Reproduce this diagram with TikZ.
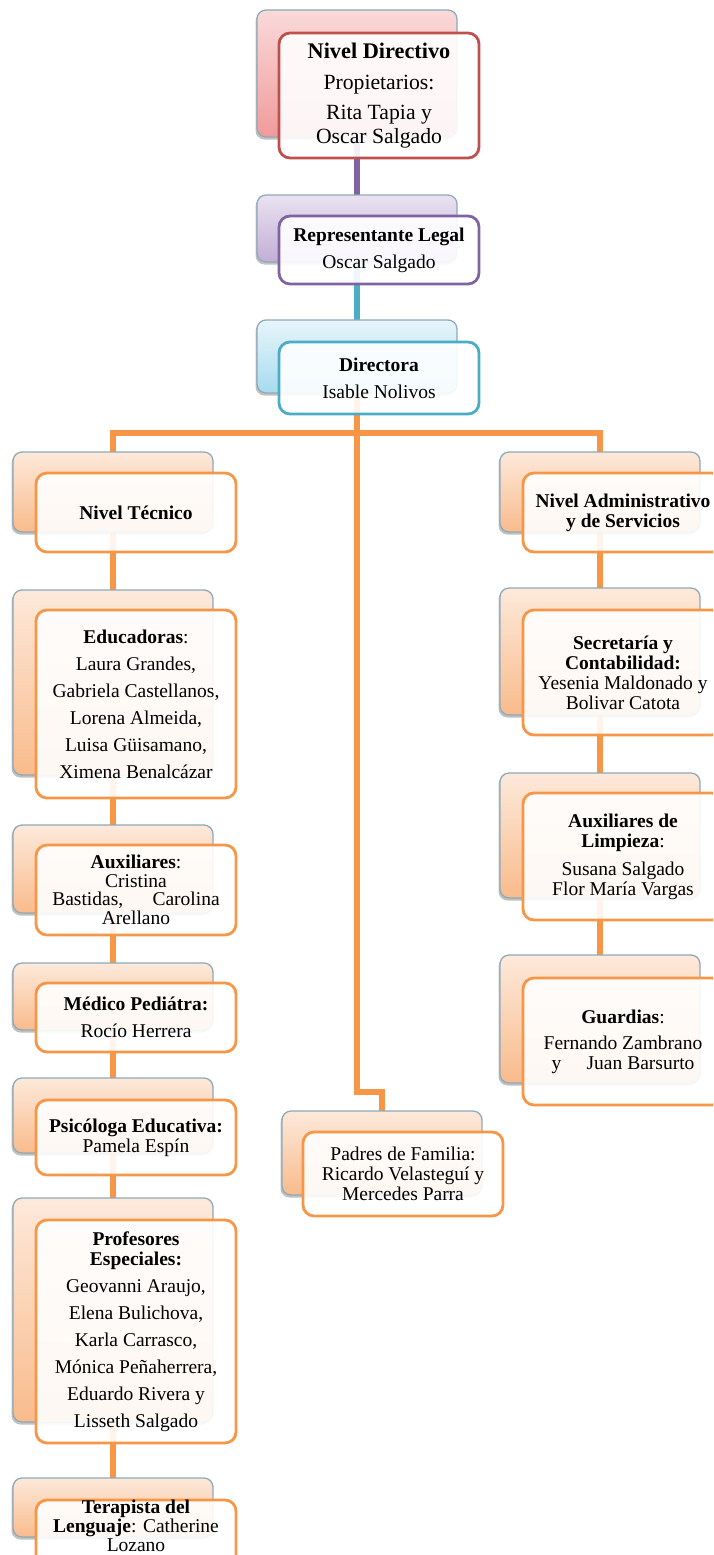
\documentclass[tikz,border=0pt]{standalone}
\usepackage{fontspec}
\setmainfont{Liberation Serif}
\usetikzlibrary{shadows}
\pgfdeclarelayer{bg}
\pgfsetlayers{bg,main}
\definecolor{orng}{HTML}{F79646}
\definecolor{og1}{HTML}{FDE9DB}
\definecolor{og2}{HTML}{F9BB8C}
\definecolor{redb}{HTML}{C0504D}
\definecolor{rd1}{HTML}{FADADA}
\definecolor{rd2}{HTML}{F09A9A}
\definecolor{purp}{HTML}{8064A2}
\definecolor{pp1}{HTML}{EAE2F1}
\definecolor{pp2}{HTML}{C2AED6}
\definecolor{teal}{HTML}{4BACC6}
\definecolor{tl1}{HTML}{E8F5FB}
\definecolor{tl2}{HTML}{A6DBEF}
\definecolor{bbord}{HTML}{8EAAB8}
\newcommand{\bt}[1]{{\fontsize{19.5}{20}\selectfont\bfseries #1}}
\tikzset{
  backbox/.style={rectangle, rounded corners=9pt, draw=bbord, line width=1.3pt,
    minimum width=200pt, inner sep=0pt,
    drop shadow={shadow xshift=-1.5pt, shadow yshift=-2.5pt, opacity=0.35, fill=black!70}},
  orgback/.style={backbox, top color=og1, bottom color=og2},
  frontbox/.style={rectangle, rounded corners=11pt, line width=2.8pt, fill=white,
    fill opacity=0.9, text opacity=1, minimum width=200pt, align=center, inner sep=2pt,
    font=\fontsize{19.5}{20}\selectfont},
  orgfront/.style={frontbox, draw=orng},
  plaintext/.style={align=center, inner sep=0pt, font=\fontsize{19.5}{19}\selectfont},
  conn/.style={line width=5.5pt},
}
\begin{document}
\begin{tikzpicture}[x=1pt,y=1pt]
\useasboundingbox (0,0) rectangle (713,-1555);
\clip (0,0) rectangle (713,-1555);
% top chain
\node[backbox, top color=rd1, bottom color=rd2, minimum height=127pt] (dirB) at (357,-73.5) {};
\node[frontbox, draw=redb, minimum height=125pt, font=\fontsize{21.7}{24}\selectfont] (dirF) at (379,-95.5)
  {{\fontsize{22.3}{24}\selectfont\bfseries Nivel Directivo}\\[7pt] Propietarios:\\[6pt] Rita Tapia y\\ Oscar Salgado};
\node[backbox, top color=pp1, bottom color=pp2, minimum height=67pt] (repB) at (357,-228.5) {};
\node[frontbox, draw=purp, minimum height=68pt] (repF) at (379,-250)
  {\bt{Representante Legal}\\[7pt] Oscar Salgado};
\node[backbox, top color=tl1, bottom color=tl2, minimum height=73pt] (diraB) at (357,-356.5) {};
\node[frontbox, draw=teal, minimum height=72pt] (diraF) at (379,-378)
  {\bt{Directora}\\[7pt] Isable Nolivos};
% left column
\node[orgback, minimum height=80pt] (tecB) at (113,-492) {};
\node[orgfront, minimum height=79pt] (tecF) at (136,-512.5) {\bt{Nivel Técnico}};
\node[orgback, minimum height=185pt] (eduB) at (113,-682.5) {};
\node[orgfront, minimum height=188pt] (eduF) at (136,-704)
  {\bt{Educadoras}:\\[7pt] Laura Grandes,\\[7pt] Gabriela Castellanos,\\[7pt] Lorena Almeida,\\[7pt] Luisa Güisamano,\\[7pt] Ximena Benalcázar};
\node[orgback, minimum height=88pt] (auxB) at (113,-869) {};
\node[orgfront, minimum height=90pt] (auxF) at (136,-890)
  {\bt{Auxiliares}:\\[-1.5pt] Cristina\\[-1.5pt] Bastidas,\hspace{1.5em}Carolina\\[-1.5pt] Arellano};
\node[orgback, minimum height=67pt] (medB) at (113,-996.5) {};
\node[orgfront, minimum height=69pt] (medF) at (136,-1017.5)
  {\bt{Médico Pediátra:}\\[7pt] Rocío Herrera};
\node[orgback, minimum height=75pt] (psiB) at (113,-1115.5) {};
\node[orgfront, minimum height=75pt] (psiF) at (136,-1137.5)
  {\bt{Psicóloga Educativa:}\\ Pamela Espín};
\node[orgback, minimum height=224pt] (proB) at (113,-1310) {};
\node[orgfront, minimum height=223pt] (proF) at (136,-1331.5)
  {\bt{Profesores}\\ \bt{Especiales:}\\[7pt] Geovanni Araujo,\\[7pt] Elena Bulichova,\\[7pt] Karla Carrasco,\\[7pt] Mónica Peñaherrera,\\[7pt] Eduardo Rivera y\\[7pt] Lisseth Salgado};
\node[orgback, minimum height=59pt] (terB) at (113,-1507.5) {};
\node[orgfront, minimum height=70pt] (terF) at (136,-1535) {};
\node[plaintext] (terT) at (136,-1526)
  {\bt{Terapista del}\\ \bt{Lenguaje}: Catherine\\ Lozano};
% right column
\node[orgback, minimum height=80pt] (admB) at (600,-492) {};
\node[orgfront, minimum height=79pt] (admF) at (623,-512.5)
  {\bt{Nivel Administrativo}\\ \bt{y de Servicios}};
\node[orgback, minimum height=127pt] (secB) at (600,-651.5) {};
\node[orgfront, minimum height=125pt] (secF) at (623,-672.5)
  {\bt{Secretaría y}\\ \bt{Contabilidad:}\\ Yesenia Maldonado y\\ Bolivar Catota};
\node[orgback, minimum height=125pt] (limB) at (600,-835.5) {};
\node[orgfront, minimum height=127pt] (limF) at (623,-856.5)
  {\bt{Auxiliares de}\\ \bt{Limpieza}:\\[8pt] Susana Salgado\\ Flor María Vargas};
\node[orgback, minimum height=128pt] (guaB) at (600,-1019) {};
\node[orgfront, minimum height=127pt] (guaF) at (623,-1041.5)
  {\bt{Guardias}:\\[6pt] Fernando Zambrano\\ y\hspace{1.3em}Juan Barsurto};
% centre
\node[orgback, minimum height=84pt] (padB) at (382,-1153) {};
\node[orgfront, minimum height=84pt] (padF) at (403,-1174)
  {Padres de Familia:\\ Ricardo Velasteguí y\\ Mercedes Parra};
\coordinate (jn) at (357,-433);
\coordinate (pk) at (357,-1092);
\begin{pgfonlayer}{bg}
\draw[conn, purp] (dirB.center) -- (repB.center);
\draw[conn, teal] (repB.center) -- (diraB.center);
\draw[conn, orng] (tecB.center) -- (tecB.center |- jn) -- (admB.center |- jn) -- (admB.center);
\draw[conn, orng] (diraB.center) -- (pk) -- (pk -| padB.center) -- (padB.center);
\draw[conn, orng] (tecB.center) -- (eduB.center) -- (auxB.center) -- (medB.center)
  -- (psiB.center) -- (proB.center) -- (terB.center);
\draw[conn, orng] (admB.center) -- (secB.center) -- (limB.center) -- (guaB.center);
\end{pgfonlayer}
\end{tikzpicture}
\end{document}
